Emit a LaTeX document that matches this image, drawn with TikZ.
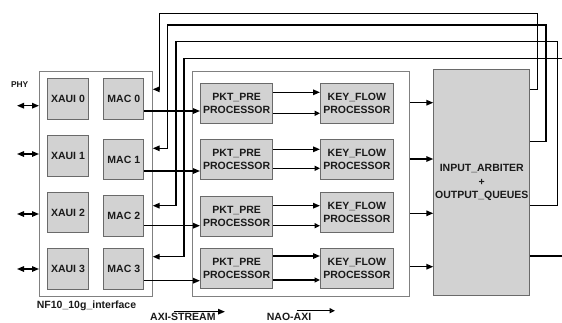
\documentclass[tikz,border=0pt]{standalone}
\usepackage{fontspec}
\setmainfont{Liberation Sans}
\usetikzlibrary{arrows.meta}
\definecolor{boxfill}{HTML}{D2D2D2}
\definecolor{boxline}{HTML}{6A6A6A}
\definecolor{frameline}{HTML}{808080}
\definecolor{txt}{HTML}{1A1A1A}
\tikzset{
  gbox/.style={draw=boxline, fill=boxfill, line width=1pt, anchor=north west, inner sep=0pt,
    font=\bfseries\fontsize{10.5}{12.7}\selectfont, align=center, text=txt},
  frame/.style={draw=frameline, fill=white, line width=1pt, anchor=north west, inner sep=0pt},
  arr/.style={line width=1.4pt, -{Triangle[length=7pt,width=5.5pt]}},
  oarr/.style={line width=1.4pt, -{Triangle[open,length=5.5pt,width=5pt]}},
  darr/.style={line width=1.4pt, {Triangle[length=7pt,width=5.5pt]}-{Triangle[length=7pt,width=5.5pt]}},
  ln/.style={line width=1.4pt},
  lbl/.style={font=\bfseries\fontsize{10.5}{12.7}\selectfont, inner sep=0pt, text=txt}
}
\begin{document}
\begin{tikzpicture}[x=1pt,y=-1pt]
\clip (0,0) rectangle (562,322);
\fill[white] (0,0) rectangle (562,322);
% outer frames
\node[frame, minimum width=112.7pt, minimum height=225.3pt] (nf) at (39,70.7) {};
\node[frame, minimum width=217.6pt, minimum height=225.3pt] (mid) at (191.7,70.7) {};
% XAUI
\node[gbox, minimum width=40.4pt, minimum height=41pt] (x0) at (47.3,78.3) {XAUI 0};
\node[gbox, minimum width=40.4pt, minimum height=40.7pt] (x1) at (47.3,135) {XAUI 1};
\node[gbox, minimum width=40.4pt, minimum height=40.6pt] (x2) at (47.3,191.7) {XAUI 2};
\node[gbox, minimum width=40.4pt, minimum height=41.3pt] (x3) at (47.3,247.7) {XAUI 3};
% MAC
\node[gbox, minimum width=40pt, minimum height=41pt] (m0) at (103.3,78.3) {MAC 0};
\node[gbox, minimum width=40pt, minimum height=40pt] (m1) at (103.3,139) {MAC 1};
\node[gbox, minimum width=40pt, minimum height=40.4pt] (m2) at (103.3,195.3) {MAC 2};
\node[gbox, minimum width=40pt, minimum height=41.3pt] (m3) at (103.3,247.7) {MAC 3};
% PKT
\node[gbox, minimum width=72.3pt, minimum height=40pt] (p0) at (200,82.7) {PKT\_PRE\\PROCESSOR};
\node[gbox, minimum width=72.3pt, minimum height=39.7pt] (p1) at (200,139.3) {PKT\_PRE\\PROCESSOR};
\node[gbox, minimum width=72.3pt, minimum height=40pt] (p2) at (200,195.7) {PKT\_PRE\\PROCESSOR};
\node[gbox, minimum width=72.3pt, minimum height=40.6pt] (p3) at (200,247.7) {PKT\_PRE\\PROCESSOR};
% KEY
\node[gbox, minimum width=72.7pt, minimum height=40pt] (k0) at (320,82.7) {KEY\_FLOW\\PROCESSOR};
\node[gbox, minimum width=72.7pt, minimum height=39.7pt] (k1) at (320,139.3) {KEY\_FLOW\\PROCESSOR};
\node[gbox, minimum width=72.7pt, minimum height=40pt] (k2) at (320,191.7) {KEY\_FLOW\\PROCESSOR};
\node[gbox, minimum width=72.7pt, minimum height=40.6pt] (k3) at (320,247.7) {KEY\_FLOW\\PROCESSOR};
% IA
\node[gbox, minimum width=96pt, minimum height=225.7pt,
  font=\bfseries\fontsize{10.5}{13.3}\selectfont] (ia) at (433.3,69.3) {INPUT\_ARBITER\\+\\OUTPUT\_QUEUES};
% labels
\node[lbl, font=\bfseries\fontsize{8.4}{10}\selectfont] (phy) at (19.7,85) {PHY};
\node[lbl, anchor=west] (nfl) at (36.7,305.7) {NF10\_10g\_interface};
\node[lbl, anchor=west] (axis) at (150,316.7) {AXI-STREAM};
\node[lbl, anchor=west] (nao) at (266.7,316.7) {NAO-AXI};
\coordinate (axa) at (174,311.7);
\coordinate (axb) at (225,311.7);
\coordinate (naa) at (296.7,310.7);
\coordinate (nab) at (335,310.7);
\draw[arr] (axa) -- (axb);
\draw[oarr] (naa) -- (nab);
% PHY double arrows
\foreach \y in {105.7,154,214,269} {
  \coordinate (pl) at (17,\y);
  \draw[darr] (pl) -- (nf.west |- 0,\y);
}
% MAC -> PKT
\draw[arr] (m0.east |- 0,111) -- (p0.west |- 0,111);
\draw[arr] (m1.east |- 0,171) -- (p1.west |- 0,171);
\draw[arr] (m2.east |- 0,225.7) -- (p2.west |- 0,225.7);
\draw[arr] (m3.east |- 0,280.7) -- (p3.west |- 0,280.7);
% PKT -> KEY
\draw[arr] (p0.east |- 0,92.3) -- (k0.west |- 0,92.3);
\draw[oarr] (p0.east |- 0,113.3) -- (k0.west |- 0,113.3);
\draw[arr] (p1.east |- 0,149.3) -- (k1.west |- 0,149.3);
\draw[oarr] (p1.east |- 0,168.3) -- (k1.west |- 0,168.3);
\draw[arr] (p2.east |- 0,205.7) -- (k2.west |- 0,205.7);
\draw[oarr] (p2.east |- 0,225.7) -- (k2.west |- 0,225.7);
\draw[arr] (p3.east |- 0,256) -- (k3.west |- 0,256);
\draw[oarr] (p3.east |- 0,280) -- (k3.west |- 0,280);
% mid -> IA
\foreach \y in {102.7,159,213.3,266.7} {
  \draw[arr] (mid.east |- 0,\y) -- (ia.west |- 0,\y);
}
% feedback
\draw[arr] (ia.east |- 0,89.3) -- (537.7,89.3) |- (159.3,13.3) |- (nf.east |- 0,89.3);
\draw[arr] (ia.east |- 0,141.7) -- (546,141.7) |- (167.3,25) |- (nf.east |- 0,148.3);
\draw[arr] (ia.east |- 0,205.7) -- (557.7,205.7) |- (176,41.7) |- (nf.east |- 0,205.7);
\draw[arr] (ia.east |- 0,256) -- (570,256) |- (184,58.3) |- (nf.east |- 0,256.7);
\end{tikzpicture}
\end{document}
